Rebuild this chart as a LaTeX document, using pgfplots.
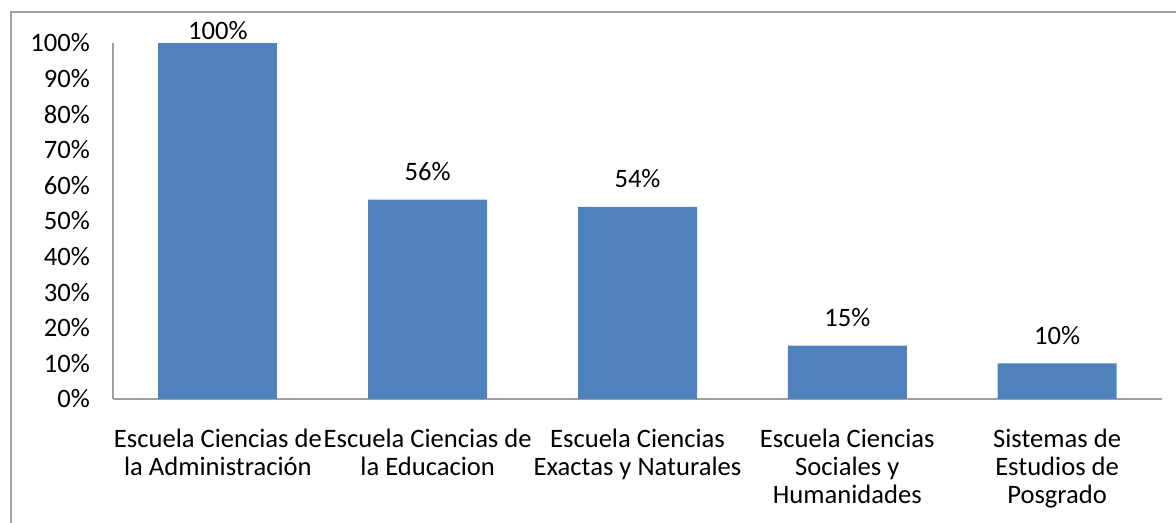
\documentclass[border=0pt]{standalone}
\usepackage{pgfplots}
\pgfplotsset{compat=1.18}
\usepackage{fontspec}
\setmainfont{Carlito}
\definecolor{barblue}{HTML}{4F81BD}
\definecolor{axgray}{HTML}{A0A0A0}
\begin{document}
\begin{tikzpicture}
\useasboundingbox (0,0) rectangle (588pt,261.5pt);
\draw[axgray, line width=1pt] (5.5pt,-2pt) -- (5.5pt,255.5pt) -- (590pt,255.5pt);
\begin{axis}[
  at={(56.5pt,62pt)}, anchor=south west,
  width=524.5pt, height=178pt, scale only axis,
  /pgf/number format/assume math mode=true,
  font=\fontsize{13.3pt}{14pt}\selectfont,
  ybar, bar width=59.5pt,
  xmin=-0.5, xmax=4.5, ymin=0, ymax=100,
  axis lines*=left,
  axis line style={axgray, line width=1pt},
  major tick length=0pt,
  ytick={0,10,...,100},
  yticklabels={0\%,10\%,20\%,30\%,40\%,50\%,60\%,70\%,80\%,90\%,100\%},
  yticklabel style={xshift=-8pt},
  xtick={0,1,2,3,4},
  xticklabels={{Escuela Ciencias de\\la Administración},{Escuela Ciencias de\\la Educacion},{Escuela Ciencias\\Exactas y Naturales},{Escuela Ciencias\\Sociales y\\Humanidades},{Sistemas de\\Estudios de\\Posgrado}},
  xticklabel style={align=center, yshift=-11.5pt},
  nodes near coords={\pgfmathprintnumber{\pgfplotspointmeta}\%},
  every node near coord/.append style={anchor=base, inner sep=0pt, yshift=9.5pt, text=black},
  clip=false,
]
\addplot[fill=barblue, draw=none, bar shift=0pt] coordinates {(1,56) (2,54) (3,15) (4,10)};
\addplot[fill=barblue, draw=none, bar shift=0pt, every node near coord/.append style={yshift=-7.8pt}] coordinates {(0,100)};
\end{axis}
\end{tikzpicture}
\end{document}
